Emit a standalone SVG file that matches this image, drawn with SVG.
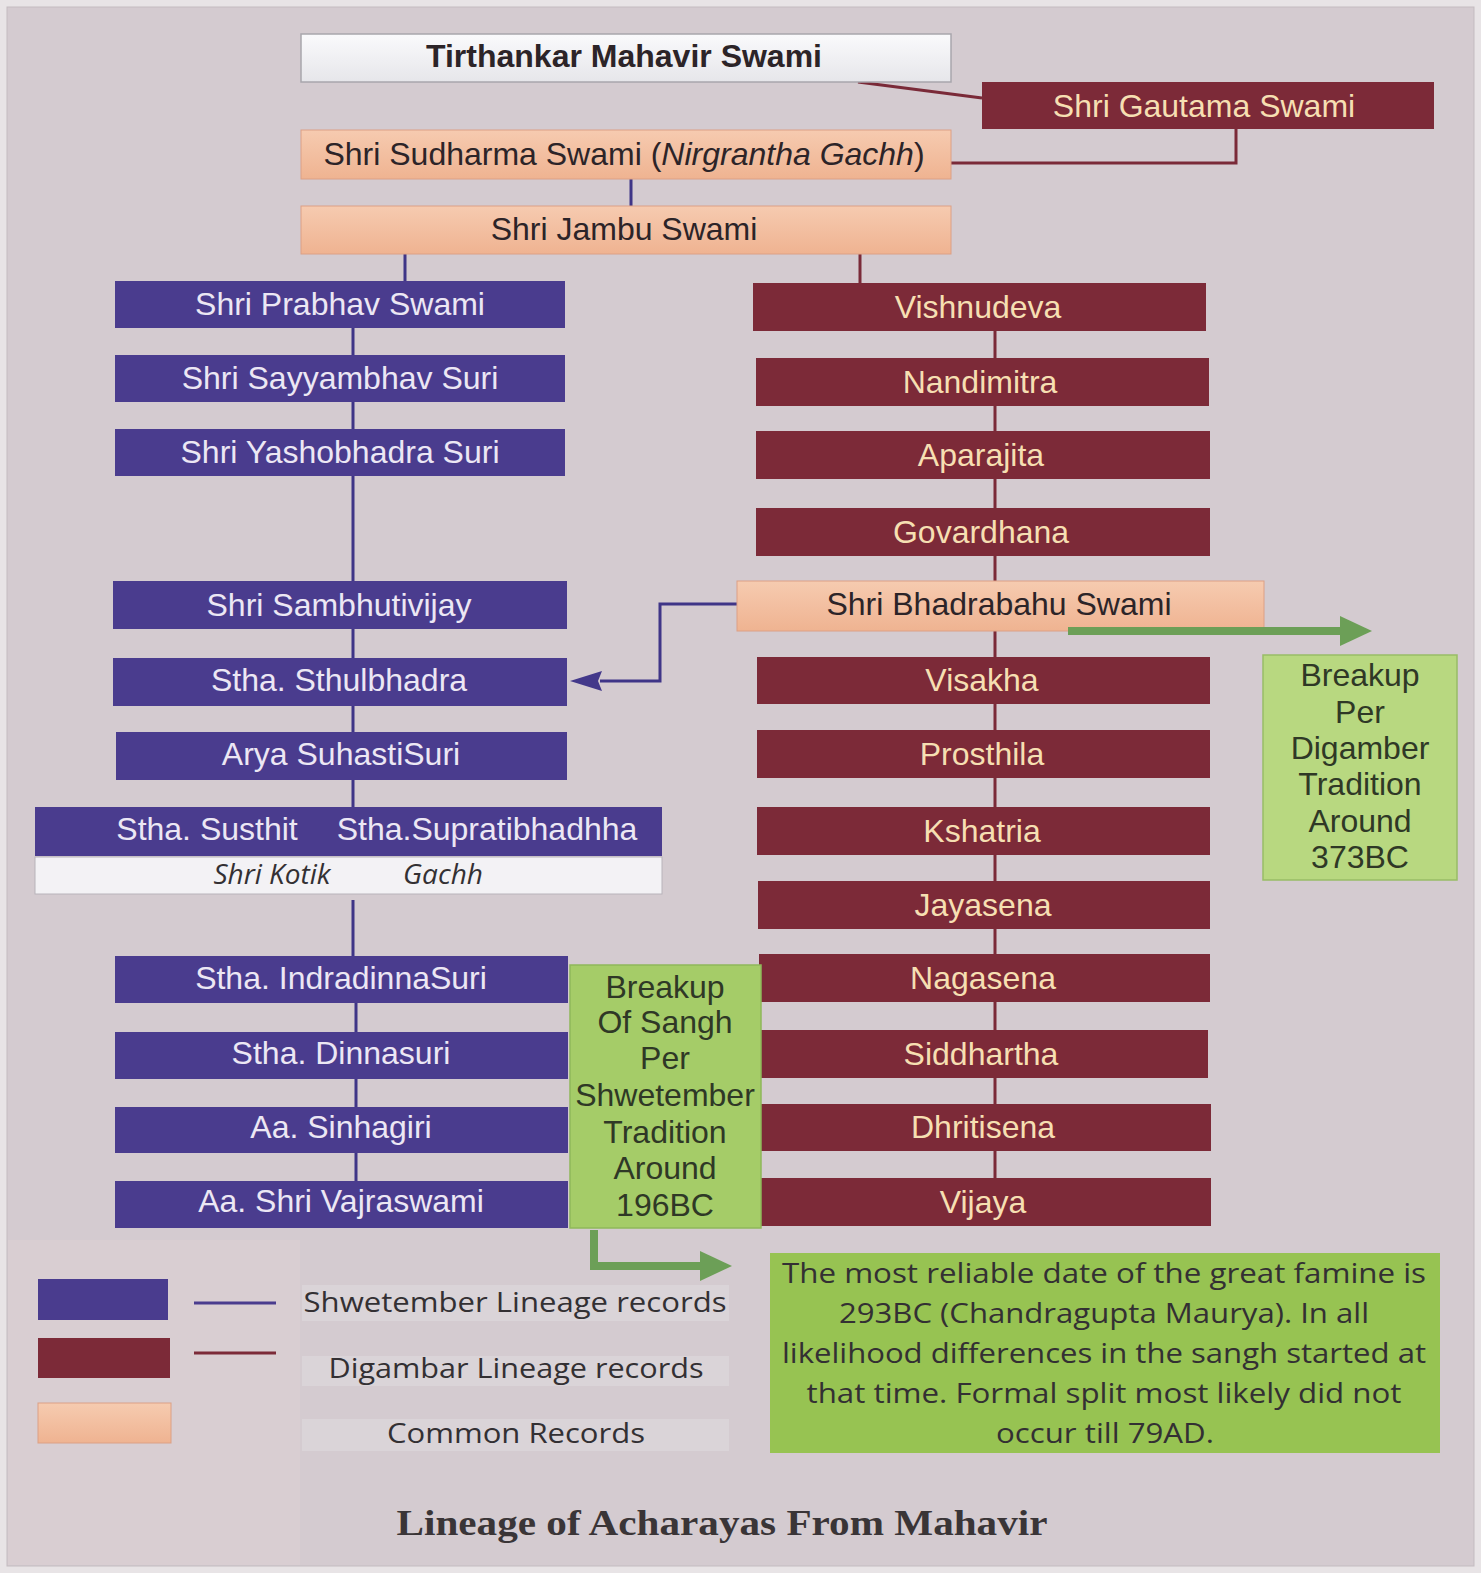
<svg xmlns="http://www.w3.org/2000/svg" width="1481" height="1573" viewBox="0 0 1481 1573">
<defs>
<linearGradient id="peach" x1="0" y1="0" x2="0" y2="1">
<stop offset="0" stop-color="#f6cbb0"/>
<stop offset="1" stop-color="#efb391"/>
</linearGradient>
<linearGradient id="white" x1="0" y1="0" x2="0" y2="1">
<stop offset="0" stop-color="#fafafc"/>
<stop offset="1" stop-color="#e6e6ea"/>
</linearGradient>
<marker id="gArrow" markerUnits="userSpaceOnUse" markerWidth="32" markerHeight="30" refX="0" refY="15" orient="auto" viewBox="0 0 32 30">
<path d="M0,0 L32,15 L0,30 z" fill="#6c9f57"/>
</marker>
<marker id="bArrow" markerUnits="userSpaceOnUse" markerWidth="32" markerHeight="20" refX="2" refY="10" orient="auto" viewBox="0 0 32 20">
<path d="M0,0 L32,10 L0,20 L4,10 z" fill="#43388a"/>
</marker>
<style>
.blue{fill:#4a3c8e;}
.maroon{fill:#7c2a38;}
.peach{fill:url(#peach);stroke:#dca085;stroke-width:1;}
.wbox{fill:url(#white);stroke:#a8a6ac;stroke-width:1.5;}
.green1{fill:#a5cc68;stroke:#8fb85a;stroke-width:1.5;}
.green2{fill:#b8d880;stroke:#98bd66;stroke-width:1.5;}
.green3{fill:#97c352;}
text{font-family:"Liberation Sans",Arial,sans-serif;font-size:32px;text-anchor:middle;}
.tb{fill:#ece7f4;}
.tm{fill:#f6dfb2;}
.td{fill:#2c2428;}
.tg{fill:#2f3826;}
.cal{font-family:"Open Sans","Liberation Sans",sans-serif;font-size:28px;fill:#333033;}
.title{font-family:"Liberation Serif","Times New Roman",serif;font-weight:bold;font-size:36px;fill:#3a3537;}
.cb{stroke:#3f3587;stroke-width:3;fill:none;}
.cm{stroke:#7a2a38;stroke-width:3;fill:none;}
.cg{stroke:#6c9f57;stroke-width:8;fill:none;}
</style>
</defs>

<rect x="0" y="0" width="1481" height="1573" fill="#e8e4e6"/>
<rect x="7" y="7" width="1467" height="1559" fill="#d4cbd0" stroke="#c3bbc0" stroke-width="1"/>
<rect x="8" y="1240" width="292" height="325" fill="#d9ced2"/>
<rect x="302" y="1285" width="427" height="36" fill="#dad4d8"/>
<rect x="302" y="1356" width="427" height="30" fill="#dad4d8"/>
<rect x="302" y="1419" width="427" height="32" fill="#dad4d8"/>

<g id="connectors">
<path class="cm" d="M858,82 L982,98"/>
<path class="cm" d="M1236,129 V163 H950"/>
<path class="cb" d="M631,179 V206"/>
<path class="cb" d="M405,254 V281"/>
<path class="cm" d="M860,254 V283"/>
<path class="cb" d="M353,328 V355"/>
<path class="cb" d="M353,402 V429"/>
<path class="cb" d="M353,476 V581"/>
<path class="cb" d="M353,629 V658"/>
<path class="cb" d="M353,706 V732"/>
<path class="cb" d="M353,780 V807"/>
<path class="cb" d="M353,900 V956"/>
<path class="cb" d="M356,1003 V1032"/>
<path class="cb" d="M356,1079 V1107"/>
<path class="cb" d="M356,1153 V1181"/>
<path class="cm" d="M995,331 V1178"/>
<path class="cb" d="M737,604 H660 V681 H600" marker-end="url(#bArrow)"/>
</g>

<g id="n-tirthankar"><rect class="wbox" x="301" y="34" width="650" height="48"/><text class="td" x="624" y="67" font-weight="bold">Tirthankar Mahavir Swami</text></g>
<g id="n-gautama"><rect class="maroon" x="982" y="82" width="452" height="47"/><text class="tm" x="1204" y="117">Shri Gautama Swami</text></g>
<g id="n-sudharma"><rect class="peach" x="301" y="130" width="650" height="49"/><text class="td" x="624" y="165">Shri Sudharma Swami (<tspan font-style="italic">Nirgrantha Gachh</tspan>)</text></g>
<g id="n-jambu"><rect class="peach" x="301" y="206" width="650" height="48"/><text class="td" x="624" y="240">Shri Jambu Swami</text></g>

<g id="n-prabhav"><rect class="blue" x="115" y="281" width="450" height="47"/><text class="tb" x="340" y="315">Shri Prabhav Swami</text></g>
<g id="n-sayyambhav"><rect class="blue" x="115" y="355" width="450" height="47"/><text class="tb" x="340" y="389">Shri Sayyambhav Suri</text></g>
<g id="n-yashobhadra"><rect class="blue" x="115" y="429" width="450" height="47"/><text class="tb" x="340" y="463">Shri Yashobhadra Suri</text></g>
<g id="n-sambhutivijay"><rect class="blue" x="113" y="581" width="454" height="48"/><text class="tb" x="339" y="616">Shri Sambhutivijay</text></g>
<g id="n-sthulbhadra"><rect class="blue" x="113" y="658" width="454" height="48"/><text class="tb" x="339" y="691">Stha. Sthulbhadra</text></g>
<g id="n-suhasti"><rect class="blue" x="116" y="732" width="451" height="48"/><text class="tb" x="341" y="765">Arya SuhastiSuri</text></g>
<g id="n-susthit"><rect class="blue" x="35" y="807" width="627" height="49"/><text class="tb" x="207" y="840">Stha. Susthit</text><text class="tb" x="487" y="840">Stha.Supratibhadhha</text></g>
<g id="n-kotik"><rect x="35" y="857" width="627" height="37" fill="#f3f2f5" stroke="#b8b4ba" stroke-width="1"/><text class="cal" x="272" y="884" font-style="italic" font-size="29" fill="#2a2628">Shri Kotik</text><text class="cal" x="443" y="884" font-style="italic" font-size="29" fill="#2a2628">Gachh</text></g>
<g id="n-indradinna"><rect class="blue" x="115" y="956" width="453" height="47"/><text class="tb" x="341" y="989">Stha. IndradinnaSuri</text></g>
<g id="n-dinnasuri"><rect class="blue" x="115" y="1032" width="453" height="47"/><text class="tb" x="341" y="1064">Stha. Dinnasuri</text></g>
<g id="n-sinhagiri"><rect class="blue" x="115" y="1107" width="453" height="46"/><text class="tb" x="341" y="1138">Aa. Sinhagiri</text></g>
<g id="n-vajraswami"><rect class="blue" x="115" y="1181" width="453" height="47"/><text class="tb" x="341" y="1212">Aa. Shri Vajraswami</text></g>

<g id="n-vishnudeva"><rect class="maroon" x="753" y="283" width="453" height="48"/><text class="tm" x="978" y="318">Vishnudeva</text></g>
<g id="n-nandimitra"><rect class="maroon" x="756" y="358" width="453" height="48"/><text class="tm" x="980" y="393">Nandimitra</text></g>
<g id="n-aparajita"><rect class="maroon" x="756" y="431" width="454" height="48"/><text class="tm" x="981" y="466">Aparajita</text></g>
<g id="n-govardhana"><rect class="maroon" x="756" y="508" width="454" height="48"/><text class="tm" x="981" y="543">Govardhana</text></g>
<g id="n-bhadrabahu"><rect class="peach" x="737" y="581" width="527" height="50"/><text class="td" x="999" y="615">Shri Bhadrabahu Swami</text></g>
<g id="n-visakha"><rect class="maroon" x="757" y="657" width="453" height="47"/><text class="tm" x="982" y="691">Visakha</text></g>
<g id="n-prosthila"><rect class="maroon" x="757" y="730" width="453" height="48"/><text class="tm" x="982" y="765">Prosthila</text></g>
<g id="n-kshatria"><rect class="maroon" x="757" y="807" width="453" height="48"/><text class="tm" x="982" y="842">Kshatria</text></g>
<g id="n-jayasena"><rect class="maroon" x="758" y="881" width="452" height="48"/><text class="tm" x="983" y="916">Jayasena</text></g>
<g id="n-nagasena"><rect class="maroon" x="759" y="954" width="451" height="48"/><text class="tm" x="983" y="989">Nagasena</text></g>
<g id="n-siddhartha"><rect class="maroon" x="759" y="1030" width="449" height="48"/><text class="tm" x="981" y="1065">Siddhartha</text></g>
<g id="n-dhritisena"><rect class="maroon" x="760" y="1104" width="451" height="47"/><text class="tm" x="983" y="1138">Dhritisena</text></g>
<g id="n-vijaya"><rect class="maroon" x="760" y="1178" width="451" height="48"/><text class="tm" x="983" y="1213">Vijaya</text></g>

<g id="n-breakup-digamber"><rect class="green2" x="1263" y="655" width="194" height="225"/>
<text class="tg" x="1360" y="686">Breakup</text>
<text class="tg" x="1360" y="723">Per</text>
<text class="tg" x="1360" y="759">Digamber</text>
<text class="tg" x="1360" y="795">Tradition</text>
<text class="tg" x="1360" y="832">Around</text>
<text class="tg" x="1360" y="868">373BC</text>
</g>
<g id="n-breakup-shwetember"><rect class="green1" x="570" y="965" width="191" height="263"/>
<text class="tg" x="665" y="998">Breakup</text>
<text class="tg" x="665" y="1033">Of Sangh</text>
<text class="tg" x="665" y="1069">Per</text>
<text class="tg" x="665" y="1106">Shwetember</text>
<text class="tg" x="665" y="1143">Tradition</text>
<text class="tg" x="665" y="1179">Around</text>
<text class="tg" x="665" y="1216">196BC</text>
</g>

<g id="n-note"><rect class="green3" x="770" y="1253" width="670" height="200"/>
<text class="cal" x="1104" y="1283" textLength="644" lengthAdjust="spacingAndGlyphs">The most reliable date of the great famine is</text>
<text class="cal" x="1104" y="1323" textLength="530" lengthAdjust="spacingAndGlyphs">293BC (Chandragupta Maurya). In all</text>
<text class="cal" x="1104" y="1363" textLength="644" lengthAdjust="spacingAndGlyphs">likelihood differences in the sangh started at</text>
<text class="cal" x="1104" y="1403" textLength="595" lengthAdjust="spacingAndGlyphs">that time. Formal split most likely did not</text>
<text class="cal" x="1105" y="1443" textLength="218" lengthAdjust="spacingAndGlyphs">occur till 79AD.</text>
</g>

<g id="connectors-breakup">
<path class="cg" d="M1068,631 H1340" marker-end="url(#gArrow)"/>
<path class="cg" d="M594,1230 V1266 H700" marker-end="url(#gArrow)"/>
</g>

<g id="legend">
<rect x="38" y="1279" width="130" height="41" fill="#4a3c8e"/>
<line x1="194" y1="1303" x2="276" y2="1303" stroke="#4a3c8e" stroke-width="3"/>
<text class="cal" x="515" y="1312" textLength="423" lengthAdjust="spacingAndGlyphs">Shwetember Lineage records</text>
<rect x="38" y="1338" width="132" height="40" fill="#7c2a38"/>
<line x1="194" y1="1353" x2="276" y2="1353" stroke="#7c2a38" stroke-width="3"/>
<text class="cal" x="516" y="1378" textLength="375" lengthAdjust="spacingAndGlyphs">Digambar Lineage records</text>
<rect x="38" y="1403" width="133" height="40" fill="url(#peach)" stroke="#dca085" stroke-width="1"/>
<text class="cal" x="516" y="1443" textLength="258" lengthAdjust="spacingAndGlyphs">Common Records</text>
</g>

<text class="title" x="722" y="1535" textLength="651" lengthAdjust="spacingAndGlyphs">Lineage of Acharayas From Mahavir</text>
</svg>
